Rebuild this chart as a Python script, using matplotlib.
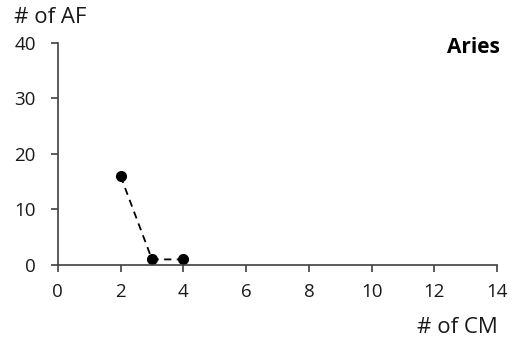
import matplotlib
matplotlib.use("Agg")
import matplotlib.pyplot as plt

cm = [2, 3, 4]
af = [16, 1, 1]
xticks = [0, 2, 4, 6, 8, 10, 12, 14]
yticks = [0, 10, 20, 30, 40]

plt.rcParams['font.family'] = ['Open Sans', 'DejaVu Sans']

fig = plt.figure(figsize=(5.12, 3.41), dpi=100)
ax = fig.add_axes([0.113, 0.223, 0.858, 0.651])
ax.plot(cm, af, linestyle=(0, (4, 3)), color='black', linewidth=1.3,
        marker='o', markersize=7, clip_on=False)
ax.set_xlim(0, 14)
ax.set_ylim(0, 40)
ax.set_xticks(xticks)
ax.set_yticks(yticks)
for s in ['top', 'right']:
    ax.spines[s].set_visible(False)
for s in ['left', 'bottom']:
    ax.spines[s].set_color('#404040')
    ax.spines[s].set_linewidth(1.2)
ax.tick_params(direction='out', length=5, width=1.2, color='#404040',
               labelsize=13.5, labelcolor='#1a1a1a')
ax.tick_params(axis='y', pad=11)
ax.tick_params(axis='x', pad=8)
fig.text(0.028, 0.95, '# of AF', fontsize=16, ha='left', va='center', color='#1a1a1a')
fig.text(0.972, 0.041, '# of CM', fontsize=16, ha='right', va='center', color='#1a1a1a')
fig.text(0.977, 0.862, 'Aries', fontsize=15, fontweight='bold',
         ha='right', va='center', color='black')
fig.savefig('out.png', dpi=100)
